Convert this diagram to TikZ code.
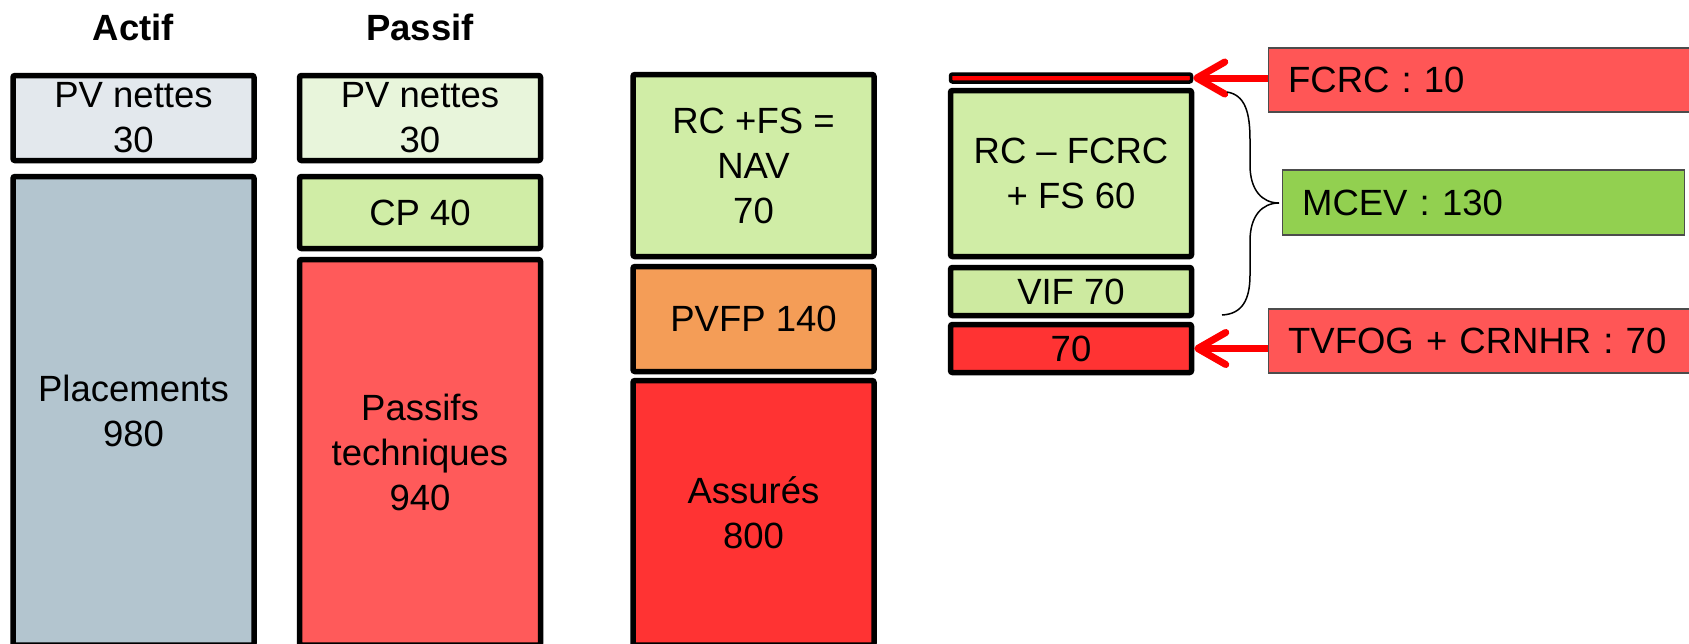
\documentclass[tikz,border=0pt]{standalone}
\usepackage{fontspec}
\setmainfont{Liberation Sans}
\usetikzlibrary{arrows.meta}
\definecolor{actpv}{HTML}{E3E8ED}
\definecolor{placem}{HTML}{B3C5CF}
\definecolor{paspv}{HTML}{E8F5DB}
\definecolor{lgreen}{HTML}{D0EDA6}
\definecolor{lgreenb}{HTML}{CDEAA0}
\definecolor{redA}{HTML}{FF5A5A}
\definecolor{redB}{HTML}{FF3333}
\definecolor{orangeA}{HTML}{F49D57}
\definecolor{tagred}{HTML}{FF5656}
\definecolor{taggreen}{HTML}{92D050}
\begin{document}
\begin{tikzpicture}[x=1pt,y=-1pt,
  txt/.style={font=\fontsize{36.5}{45}\selectfont},
  box/.style={txt, draw=black, line width=5.5pt, rounded corners=2pt, inner sep=0pt,
    align=center, minimum width=241pt},
  tag/.style={txt, draw=black!70, line width=1.2pt, inner ysep=0pt, inner xsep=20pt,
    align=left, anchor=west},
  coltitle/.style={font=\fontsize{36.5}{45}\selectfont\bfseries, anchor=base},
  redarrow/.style={draw=red, line width=7pt, -{Straight Barb[length=28pt,width=32pt,round]}},
  bracepath/.style={draw=black, line width=1.5pt}
]
\useasboundingbox (0,0) rectangle (1689,643);
\clip (0,0) rectangle (1689,643);

% titles
\node[coltitle] (tact) at (133.5,40) {Actif};
\node[coltitle] (tpas) at (420,40) {Passif};

% Actif column
\node[box, fill=actpv, minimum height=85pt] (apv) at (133.5,118) {PV nettes\\30};
\node[box, fill=placem, minimum height=468.5pt] (aplac) at (133.5,410.75) {Placements\\980};

% Passif column
\node[box, fill=paspv, minimum height=85pt] (ppv) at (420,118) {PV nettes\\30};
\node[box, fill=lgreen, minimum height=72pt] (pcp) at (420,212.5) {CP 40};
\node[box, fill=redA, minimum height=385.5pt] (ptech) at (420,452.25) {Passifs\\techniques\\940};

% Middle column
\node[box, fill=lgreen, minimum height=182pt] (mnav) at (753.5,165.5) {RC +FS =\\NAV\\70};
\node[box, fill=orangeA, minimum height=105pt] (mpvfp) at (753.5,319) {PVFP 140};
\node[box, fill=redB, minimum height=264.5pt] (mass) at (753.5,512.75) {Assurés\\800};

% Right column
\node[box, fill=red, line width=3.5pt, minimum height=8pt] (rthin) at (1071,78) {};
\node[box, fill=lgreen, minimum height=166pt] (rrc) at (1071,173.5) {RC – FCRC\\+ FS 60};
\node[box, fill=lgreenb, minimum height=48pt] (rvif) at (1071,291.5) {VIF 70};
\node[box, fill=redB, minimum height=48pt] (r70) at (1071,348.5) {70};

% tags
\node[tag, fill=tagred, text width=392pt, minimum height=64pt] (fcrc) at (1267.5,80) {FCRC : 10};
\node[tag, fill=taggreen, text width=362pt, minimum height=65pt] (mcev) at (1281.5,202.5) {MCEV : 130};
\node[tag, fill=tagred, text width=392pt, minimum height=64pt] (tvfog) at (1267.5,341) {TVFOG + CRNHR : 70};

% arrows
\draw[redarrow] (fcrc.west |- rthin.east) -- (rthin.east);
\draw[redarrow] (tvfog.west |- r70.east) -- (r70.east);

% brace
\coordinate (btop) at (1227,92);
\coordinate (btip) at (1279,203);
\coordinate (bbot) at (1222,315);
\draw[bracepath] (btop) .. controls (1245,95) and (1250,112) .. (1250,140)
  -- (1250,165) .. controls (1250,190) and (1262,203) .. (btip)
  .. controls (1262,203) and (1250,216) .. (1250,241)
  -- (1250,275) .. controls (1250,300) and (1242,314) .. (bbot);
\end{tikzpicture}
\end{document}
